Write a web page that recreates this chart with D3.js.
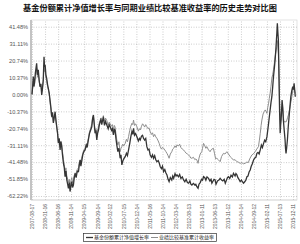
<!DOCTYPE html>
<html>
<head>
<meta charset="utf-8">
<script src="https://cdn.jsdelivr.net/npm/d3@7/dist/d3.min.js"></script>
<style>
  html, body { margin: 0; padding: 0; background: #fff; }
  svg { display: block; }
</style>
</head>
<body>
<svg id="chart"></svg>
<script>
// chart data
const titleText = "基金份额累计净值增长率与同期业绩比较基准收益率的历史走势对比图";
const seriesNames = ["基金份额累计净值增长率", "业绩比较基准累计收益率"];

const yTicks = [41.48, 31.11, 20.74, 10.37, 0.00, -10.37, -20.74, -31.11, -41.48, -51.85, -62.22];

const xTickLabels = ["2007-08-17", "2008-01-16", "2008-06-16", "2008-11-14", "2009-04-15",
  "2009-09-14", "2010-02-12", "2010-07-15", "2010-12-14", "2011-05-16", "2011-10-14",
  "2012-03-14", "2012-08-13", "2013-01-11", "2013-06-13", "2013-11-12", "2014-04-14",
  "2014-09-12", "2015-02-11", "2015-07-13", "2015-12-11"];

const fundDates = ["2007-08-17","2007-08-24","2007-09-01","2007-09-08","2007-09-15","2007-09-25","2007-10-10","2007-10-19","2007-10-29","2007-11-08",
  "2007-11-18","2007-11-28","2007-12-08","2007-12-16","2007-12-26","2008-01-04","2008-01-10","2008-01-17","2008-01-26","2008-02-04",
  "2008-02-14","2008-02-23","2008-03-04","2008-03-14","2008-03-24","2008-04-02","2008-04-12","2008-04-22","2008-05-02","2008-05-12",
  "2008-05-22","2008-05-31","2008-06-10","2008-06-19","2008-06-29","2008-07-09","2008-07-18","2008-07-26","2008-08-06","2008-08-17",
  "2008-08-27","2008-09-05","2008-09-15","2008-09-25","2008-10-05","2008-10-14","2008-10-24","2008-11-02","2008-11-12","2008-11-22",
  "2008-12-01","2008-12-11","2008-12-21","2009-01-01","2009-01-12","2009-01-25","2009-02-08","2009-02-18","2009-02-28","2009-03-08",
  "2009-03-17","2009-03-30","2009-04-12","2009-04-26","2009-05-10","2009-05-20","2009-06-03","2009-06-16","2009-06-29","2009-07-13",
  "2009-07-22","2009-08-01","2009-08-10","2009-08-20","2009-08-30","2009-09-09","2009-09-18","2009-09-28","2009-10-08","2009-10-17",
  "2009-10-27","2009-11-06","2009-11-15","2009-11-25","2009-12-08","2009-12-20","2010-01-04","2010-01-20","2010-02-01","2010-02-12",
  "2010-02-28","2010-03-10","2010-03-22","2010-04-01","2010-04-10","2010-04-20","2010-04-30","2010-05-12","2010-05-25","2010-06-08",
  "2010-06-18","2010-06-28","2010-07-08","2010-07-20","2010-08-06","2010-08-20","2010-09-01","2010-09-14","2010-09-28","2010-10-10",
  "2010-10-23","2010-11-02","2010-11-11","2010-11-22","2010-12-05","2010-12-20","2011-01-06","2011-01-18","2011-01-28","2011-02-12",
  "2011-02-24","2011-03-07","2011-03-20","2011-04-02","2011-04-15","2011-04-28","2011-05-10","2011-05-24","2011-06-08","2011-06-20",
  "2011-07-02","2011-07-15","2011-07-28","2011-08-10","2011-08-25","2011-09-06","2011-09-18","2011-10-02","2011-10-14","2011-10-27",
  "2011-11-10","2011-11-22","2011-12-05","2011-12-18","2011-12-30","2012-01-13","2012-01-30","2012-02-10","2012-02-21","2012-03-08",
  "2012-03-20","2012-03-31","2012-04-17","2012-05-01","2012-05-15","2012-06-01","2012-06-15","2012-06-30","2012-07-15","2012-07-30",
  "2012-08-13","2012-08-28","2012-09-08","2012-09-20","2012-10-08","2012-10-25","2012-11-05","2012-11-17","2012-12-01","2012-12-12",
  "2012-12-26","2013-01-10","2013-01-22","2013-02-03","2013-02-18","2013-03-02","2013-03-15","2013-04-02","2013-04-18","2013-05-01",
  "2013-05-11","2013-05-25","2013-06-05","2013-06-17","2013-06-28","2013-07-15","2013-08-01","2013-08-15","2013-09-01","2013-09-15",
  "2013-10-01","2013-10-14","2013-10-28","2013-11-08","2013-11-20","2013-12-05","2013-12-20","2014-01-05","2014-01-17","2014-02-05",
  "2014-02-15","2014-02-26","2014-03-10","2014-03-22","2014-04-05","2014-04-20","2014-05-01","2014-05-14","2014-05-28","2014-06-10",
  "2014-06-23","2014-07-05","2014-07-18","2014-07-31","2014-08-12","2014-08-25","2014-09-08","2014-09-20","2014-10-05","2014-10-17",
  "2014-10-30","2014-11-12","2014-11-25","2014-12-08","2014-12-20","2015-01-03","2015-01-15","2015-01-28","2015-02-11","2015-02-20",
  "2015-03-02","2015-03-10","2015-03-20","2015-03-30","2015-04-09","2015-04-18","2015-04-28","2015-05-08","2015-05-17","2015-05-26",
  "2015-06-01","2015-06-06","2015-06-12","2015-06-18","2015-06-24","2015-06-29","2015-07-03","2015-07-08","2015-07-15","2015-07-20",
  "2015-07-26","2015-08-01","2015-08-06","2015-08-14","2015-08-21","2015-08-31","2015-09-10","2015-09-15","2015-09-21","2015-09-28",
  "2015-10-07","2015-10-18","2015-10-30","2015-11-08","2015-11-16","2015-11-26","2015-12-08","2015-12-16","2015-12-24","2016-01-07"];

const fundValues = [0.0,4.5,10.9,5.0,7.0,13.0,19.1,12.0,15.0,9.0,
  4.7,6.5,-0.3,3.0,8.8,23.1,17.0,18.0,12.0,9.9,
  6.0,3.7,1.0,-3.4,-8.0,-13.6,-11.0,-17.5,-14.0,-10.6,
  -16.0,-19.8,-24.0,-29.9,-27.0,-34.0,-29.0,-31.0,-37.0,-42.2,
  -45.0,-50.4,-47.0,-52.4,-55.0,-57.5,-54.0,-59.5,-56.0,-53.4,
  -57.0,-55.5,-51.0,-48.3,-51.0,-47.0,-47.3,-43.0,-40.2,-44.0,
  -41.2,-37.0,-35.0,-34.0,-31.0,-32.5,-27.9,-24.0,-22.0,-19.8,
  -15.0,-12.6,-18.0,-23.8,-22.0,-27.9,-24.0,-22.0,-19.0,-17.0,
  -15.5,-18.5,-16.0,-14.6,-19.0,-16.5,-18.7,-21.0,-18.5,-19.8,
  -22.0,-21.0,-24.8,-21.5,-22.0,-27.0,-30.9,-35.0,-33.0,-39.1,
  -37.0,-43.2,-41.0,-39.5,-38.1,-36.0,-37.5,-34.0,-30.0,-26.0,
  -22.8,-24.5,-20.7,-25.0,-24.0,-25.9,-28.5,-27.0,-27.9,-25.5,
  -25.0,-26.9,-28.0,-27.0,-32.0,-34.0,-33.5,-37.1,-38.5,-37.0,
  -39.1,-37.5,-40.0,-41.2,-40.5,-42.0,-44.3,-45.5,-44.0,-47.3,
  -46.0,-48.0,-49.3,-52.0,-53.4,-51.0,-52.5,-50.0,-51.4,-48.5,
  -50.0,-49.3,-50.5,-49.0,-51.5,-50.5,-52.4,-53.5,-52.0,-54.0,
  -54.4,-53.0,-55.0,-55.5,-54.5,-55.5,-55.0,-56.5,-57.5,-55.0,
  -54.0,-52.0,-52.5,-50.4,-51.0,-52.5,-50.5,-51.4,-53.0,-52.0,
  -54.4,-53.0,-52.0,-52.4,-55.0,-53.0,-52.5,-51.4,-52.5,-53.0,
  -52.0,-54.4,-52.5,-51.0,-50.4,-51.5,-49.5,-50.5,-48.3,-50.0,
  -48.5,-49.3,-51.0,-52.0,-53.4,-52.5,-53.5,-54.4,-53.5,-52.5,
  -50.4,-50.0,-47.5,-46.3,-44.0,-42.5,-40.2,-39.0,-38.5,-36.1,
  -35.5,-36.5,-34.0,-31.0,-32.5,-30.0,-28.0,-29.0,-25.9,-22.0,
  -17.7,-14.0,-9.5,-5.0,-1.4,4.0,10.9,16.0,21.1,28.0,
  33.0,37.4,43.5,38.0,33.3,18.0,4.7,-10.0,-23.8,-19.0,
  -15.7,-9.0,-3.4,-8.0,-15.7,-22.0,-27.9,-33.0,-36.1,-33.0,
  -27.9,-19.0,-11.6,-6.0,-1.4,2.0,4.7,3.0,6.8,-1.4];

const benchDates = ["2007-08-17","2007-08-24","2007-09-01","2007-09-08","2007-09-15","2007-09-25","2007-10-10","2007-10-19","2007-10-29","2007-11-08",
  "2007-11-18","2007-11-28","2007-12-08","2007-12-16","2007-12-26","2008-01-04","2008-01-10","2008-01-17","2008-01-26","2008-02-04",
  "2008-02-14","2008-02-23","2008-03-04","2008-03-14","2008-03-24","2008-04-02","2008-04-12","2008-04-22","2008-05-02","2008-05-12",
  "2008-05-22","2008-05-31","2008-06-10","2008-06-19","2008-06-29","2008-07-09","2008-07-18","2008-07-26","2008-08-06","2008-08-17",
  "2008-08-27","2008-09-05","2008-09-15","2008-09-25","2008-10-05","2008-10-14","2008-10-24","2008-11-02","2008-11-12","2008-11-22",
  "2008-12-01","2008-12-11","2008-12-21","2009-01-01","2009-01-12","2009-01-25","2009-02-08","2009-02-18","2009-02-28","2009-03-08",
  "2009-03-17","2009-03-30","2009-04-12","2009-04-26","2009-05-10","2009-05-20","2009-06-03","2009-06-16","2009-06-29","2009-07-13",
  "2009-07-22","2009-08-01","2009-08-10","2009-08-20","2009-08-30","2009-09-09","2009-09-18","2009-09-28","2009-10-08","2009-10-17",
  "2009-10-27","2009-11-06","2009-11-15","2009-11-25","2009-12-08","2009-12-20","2010-01-04","2010-01-20","2010-02-01","2010-02-12",
  "2010-02-28","2010-03-10","2010-03-22","2010-04-01","2010-04-10","2010-04-20","2010-04-30","2010-05-12","2010-05-25","2010-06-08",
  "2010-06-18","2010-06-28","2010-07-08","2010-07-20","2010-08-06","2010-08-20","2010-09-01","2010-09-14","2010-09-28","2010-10-10",
  "2010-10-23","2010-11-02","2010-11-11","2010-11-22","2010-12-05","2010-12-20","2011-01-06","2011-01-18","2011-01-28","2011-02-12",
  "2011-02-24","2011-03-07","2011-03-20","2011-04-02","2011-04-15","2011-04-28","2011-05-10","2011-05-24","2011-06-08","2011-06-20",
  "2011-07-02","2011-07-15","2011-07-28","2011-08-10","2011-08-25","2011-09-06","2011-09-18","2011-10-02","2011-10-14","2011-10-27",
  "2011-11-10","2011-11-22","2011-12-05","2011-12-18","2011-12-30","2012-01-13","2012-01-30","2012-02-10","2012-02-21","2012-03-08",
  "2012-03-20","2012-03-31","2012-04-17","2012-05-01","2012-05-15","2012-06-01","2012-06-15","2012-06-30","2012-07-15","2012-07-30",
  "2012-08-13","2012-08-28","2012-09-08","2012-09-20","2012-10-08","2012-10-25","2012-11-05","2012-11-17","2012-12-01","2012-12-12",
  "2012-12-26","2013-01-13","2013-01-22","2013-02-03","2013-02-18","2013-03-02","2013-03-13","2013-04-02","2013-04-20","2013-05-01",
  "2013-05-11","2013-05-29","2013-06-10","2013-06-24","2013-07-07","2013-07-25","2013-08-15","2013-09-01","2013-09-23","2013-10-10",
  "2013-11-01","2013-11-20","2013-12-10","2013-12-28","2014-01-17","2014-02-05","2014-02-26","2014-03-15","2014-04-05","2014-04-25",
  "2014-05-14","2014-06-01","2014-06-20","2014-07-10","2014-07-25","2014-08-19","2014-09-05","2014-09-27","2014-10-15","2014-11-04",
  "2014-11-15","2014-11-25","2014-12-05","2014-12-14","2014-12-28","2015-01-10","2015-01-22","2015-02-01","2015-02-11","2015-02-20",
  "2015-03-02","2015-03-10","2015-03-20","2015-03-30","2015-04-09","2015-04-18","2015-04-28","2015-05-08","2015-05-17","2015-05-26",
  "2015-06-06","2015-06-12","2015-06-18","2015-06-24","2015-06-29","2015-07-03","2015-07-08","2015-07-15","2015-07-22","2015-08-03",
  "2015-08-12","2015-08-21","2015-08-28","2015-09-10","2015-09-20","2015-10-01","2015-10-10","2015-10-19","2015-11-07","2015-11-28",
  "2015-12-17","2015-12-28","2016-01-07"];

const benchValues = [0.0,3.5,8.0,4.5,6.0,11.0,16.0,10.5,13.0,8.0,
  5.0,6.0,2.0,4.0,8.0,18.0,14.0,14.5,10.0,8.0,
  5.0,3.0,0.0,-5.0,-9.0,-14.0,-12.0,-17.0,-14.5,-12.0,
  -16.5,-20.0,-24.0,-29.0,-27.0,-32.0,-28.5,-30.0,-35.0,-40.0,
  -43.0,-47.0,-45.0,-50.0,-52.0,-54.0,-52.0,-56.5,-53.0,-51.0,
  -54.0,-53.0,-49.5,-48.0,-49.5,-46.0,-45.0,-41.5,-40.0,-42.0,
  -39.0,-36.0,-34.0,-33.0,-30.5,-31.0,-27.0,-23.0,-21.0,-18.0,
  -14.5,-13.0,-17.5,-22.0,-21.0,-25.0,-22.5,-20.0,-17.5,-16.0,
  -14.5,-17.0,-14.5,-13.0,-16.5,-14.5,-16.0,-19.0,-17.0,-18.0,
  -19.5,-18.5,-22.0,-19.0,-20.0,-24.0,-27.9,-31.0,-29.0,-35.1,
  -33.0,-32.0,-30.5,-31.5,-30.0,-27.5,-29.0,-25.9,-22.0,-19.5,
  -17.7,-18.5,-15.7,-19.0,-18.0,-19.8,-22.5,-21.0,-21.8,-19.5,
  -18.0,-18.7,-20.0,-18.5,-19.8,-21.0,-20.5,-22.8,-24.5,-23.5,
  -25.9,-24.5,-26.0,-26.9,-28.5,-30.0,-32.0,-33.5,-32.5,-33.0,
  -34.0,-35.0,-36.1,-37.5,-39.1,-36.5,-35.1,-33.5,-33.0,-31.5,
  -32.5,-31.0,-31.5,-30.5,-32.5,-33.5,-34.0,-35.0,-36.0,-36.5,
  -37.1,-38.0,-39.0,-39.1,-38.5,-40.0,-39.5,-40.2,-42.2,-39.0,
  -36.5,-35.1,-33.0,-30.0,-31.5,-33.0,-32.0,-34.0,-35.1,-34.0,
  -33.5,-33.0,-36.0,-39.5,-39.1,-40.0,-41.2,-38.0,-36.1,-36.5,
  -35.1,-36.5,-38.1,-39.0,-40.2,-40.0,-41.2,-41.5,-42.2,-41.8,
  -42.5,-42.2,-41.5,-41.7,-39.5,-37.1,-36.5,-35.1,-33.5,-32.0,
  -28.0,-23.8,-19.0,-15.7,-12.0,-10.5,-9.5,-10.5,-11.6,-8.0,
  -5.4,-2.5,0.7,5.0,9.9,12.0,15.0,19.0,23.1,26.0,
  29.2,33.0,29.0,25.0,16.0,8.0,-5.0,-15.7,-12.0,-9.5,
  -8.0,-13.6,-17.0,-16.5,-17.0,-15.7,-14.0,-12.6,-7.5,-1.4,
  4.7,3.0,0.6];

const W = 300, H = 244;
const plot = { left: 31, right: 297, top: 20, bottom: 200 };

const parse = d3.timeParse("%Y-%m-%d");

const svg = d3.select("#chart").attr("width", W).attr("height", H);

const x = d3.scaleTime()
  .domain([parse(fundDates[0]), parse(fundDates[fundDates.length - 1])])
  .range([32, 295.3]);

const y = d3.scaleLinear()
  .domain([-64.67, 45.58])
  .range([plot.bottom, plot.top]);

//title
svg.append("text")
  .attr("x", 150)
  .attr("y", 10.5)
  .attr("text-anchor", "middle")
  .attr("font-family", "'Noto Sans CJK SC', sans-serif")
  .attr("font-weight", 700)
  .attr("font-size", "8.2px")
  .attr("fill", "#111")
  .text(titleText);

//plot frame
svg.append("rect")
  .attr("x", plot.left).attr("y", plot.top)
  .attr("width", plot.right - plot.left).attr("height", plot.bottom - plot.top)
  .attr("fill", "none").attr("stroke", "#d0d0d0").attr("stroke-width", 0.6);

//horizontal grid + y labels
const yAxis = d3.axisLeft(y)
  .tickValues(yTicks)
  .tickSize(-(plot.right - plot.left))
  .tickPadding(3)
  .tickFormat(d => d.toFixed(2) + "%");

const yg = svg.append("g").attr("transform", `translate(${plot.left},0)`).call(yAxis);
yg.select(".domain").remove();
yg.selectAll(".tick line")
  .attr("stroke", "#9a9a9a").attr("stroke-width", 0.5).attr("stroke-dasharray", "1,1.5");
yg.selectAll(".tick text")
  .attr("font-family", "'Liberation Sans', Arial, sans-serif")
  .attr("font-size", "5.6px").attr("fill", "#555");

//vertical grid + x labels
const xTickDates = xTickLabels.map(parse);
const xAxis = d3.axisBottom(x)
  .tickValues(xTickDates)
  .tickSize(-(plot.bottom - plot.top))
  .tickFormat(d3.timeFormat("%Y-%m-%d"));

const xg = svg.append("g").attr("transform", `translate(0,${plot.bottom})`).call(xAxis);
xg.select(".domain").remove();
xg.selectAll(".tick line")
  .attr("stroke", "#9a9a9a").attr("stroke-width", 0.5).attr("stroke-dasharray", "1,1.5");
xg.selectAll(".tick text")
  .attr("font-family", "'Liberation Sans', Arial, sans-serif")
  .attr("font-size", "4.9px").attr("fill", "#555")
  .attr("text-anchor", "end")
  .attr("transform", "translate(1.8,4) rotate(-90)")
  .attr("x", 0).attr("y", 0).attr("dy", 0);

//left axis band
svg.append("line")
  .attr("x1", plot.left).attr("x2", plot.left)
  .attr("y1", plot.top).attr("y2", plot.bottom)
  .attr("stroke", "#b8b8b8").attr("stroke-width", 1.6);
svg.append("line")
  .attr("x1", plot.left).attr("x2", plot.right)
  .attr("y1", plot.bottom).attr("y2", plot.bottom)
  .attr("stroke", "#d0d0d0").attr("stroke-width", 0.6);

//lines
const line = d3.line()
  .x(d => x(d.date))
  .y(d => y(d.value));

const bench = benchDates.map((d, i) => ({ date: parse(d), value: benchValues[i] }));
const fund = fundDates.map((d, i) => ({ date: parse(d), value: fundValues[i] }));

svg.append("path")
  .datum(bench)
  .attr("d", line)
  .attr("fill", "none")
  .attr("stroke", "#8e8e8e")
  .attr("stroke-width", 1);

svg.append("path")
  .datum(fund)
  .attr("d", line)
  .attr("fill", "none")
  .attr("stroke", "#353535")
  .attr("stroke-width", 1.3);

//legend
const lg = svg.append("g");
lg.append("rect")
  .attr("x", 83.5).attr("y", 233.5)
  .attr("width", 133).attr("height", 8)
  .attr("fill", "#fff").attr("stroke", "#333").attr("stroke-width", 0.7);

const legendItems = [
  { name: seriesNames[0], color: "#353535", width: 1.3, x: 86 },
  { name: seriesNames[1], color: "#8e8e8e", width: 1, x: 151 }
];
legendItems.forEach(it => {
  lg.append("line")
    .attr("x1", it.x).attr("x2", it.x + 7)
    .attr("y1", 237.5).attr("y2", 237.5)
    .attr("stroke", it.color).attr("stroke-width", it.width);
  lg.append("text")
    .attr("x", it.x + 8).attr("y", 239.4)
    .attr("font-family", "'Noto Sans CJK SC', sans-serif")
    .attr("font-size", "5px").attr("fill", "#222")
    .text(it.name);
});
</script>
</body>
</html>
